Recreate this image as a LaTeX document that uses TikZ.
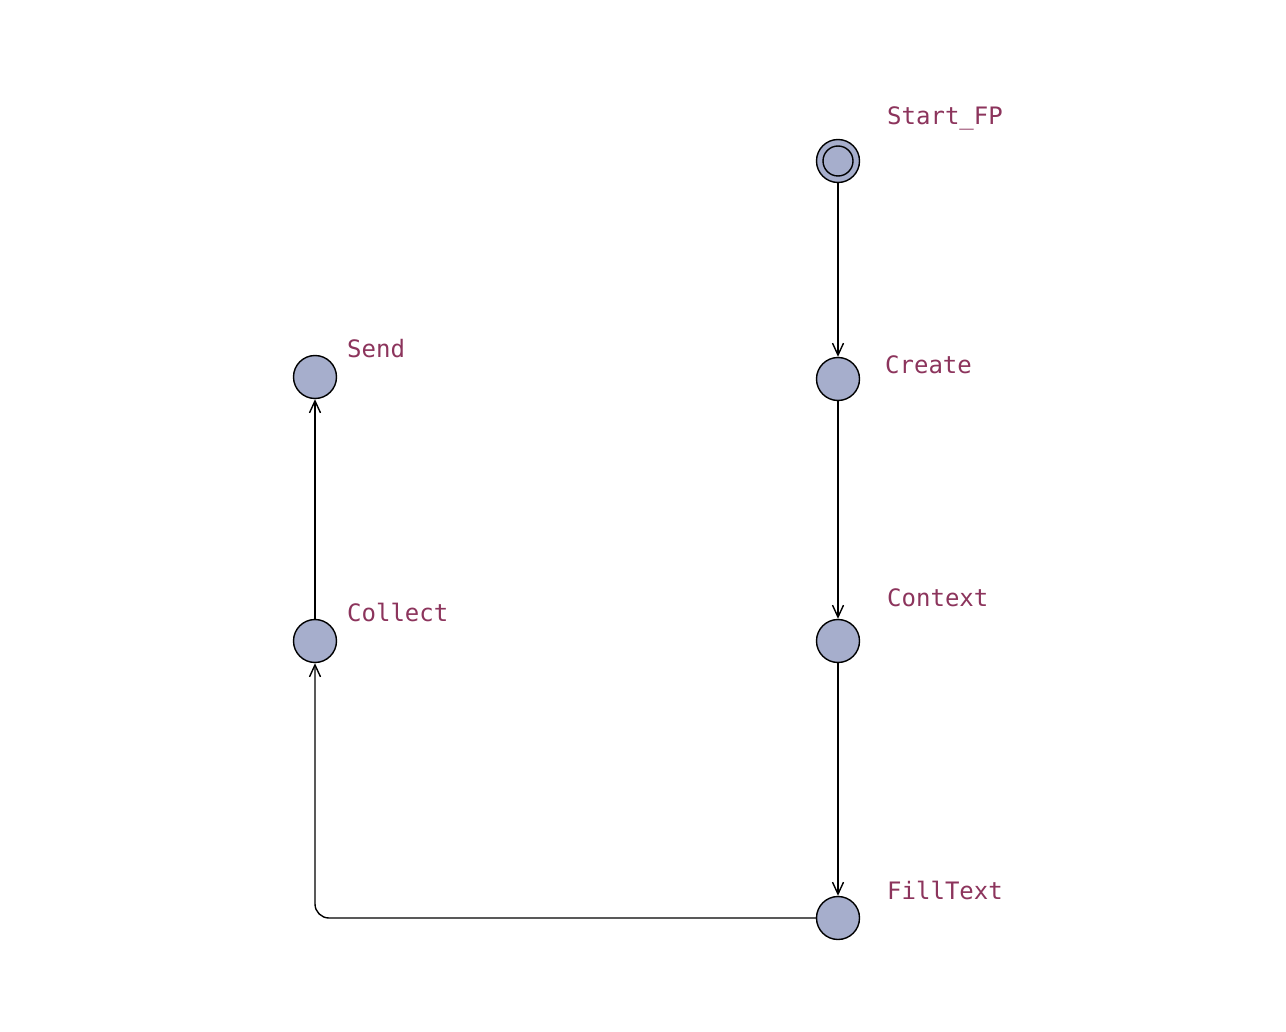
\documentclass[tikz,border=0pt]{standalone}
\usepackage{fontspec}
\setmonofont{DejaVu Sans Mono}
\usetikzlibrary{arrows.meta}
\definecolor{nodefill}{RGB}{166,174,204}
\definecolor{labelcol}{RGB}{140,52,92}
\tikzset{
  state/.style={circle,draw=black,line width=1.4pt,fill=nodefill,minimum size=43pt,inner sep=0pt},
  lbl/.style={anchor=base west,inner sep=0pt,text=labelcol,font=\ttfamily\fontsize{24}{24}\selectfont},
  edge/.style={line width=1.4pt,-{Straight Barb[length=12pt,width=11pt,line width=1.4pt]}}
}
\begin{document}
\begin{tikzpicture}[x=1pt,y=-1pt]
\useasboundingbox (0,0) rectangle (1286,1032);
\node[state] (start) at (838,161) {};
\node[circle,draw=black,line width=1.4pt,minimum size=30pt,inner sep=0pt] (startin) at (838,161) {};
\node[state] (create) at (838,379) {};
\node[state] (context) at (838,641) {};
\node[state] (fill) at (838,918) {};
\node[state] (collect) at (315,641) {};
\node[state] (send) at (315,377) {};
\node[lbl] (l1) at (887,125) {Start\_FP};
\node[lbl] (l2) at (885,374) {Create};
\node[lbl] (l3) at (887,606) {Context};
\node[lbl] (l4) at (887,899) {FillText};
\node[lbl] (l5) at (347,621) {Collect};
\node[lbl] (l6) at (347,358) {Send};
\draw[edge] (start) -- (create);
\draw[edge] (create) -- (context);
\draw[edge] (context) -- (fill);
\draw[edge,rounded corners=14pt] (fill) -- (collect.south |- fill.center) -- (collect);
\draw[edge] (collect) -- (send);
\end{tikzpicture}
\end{document}
